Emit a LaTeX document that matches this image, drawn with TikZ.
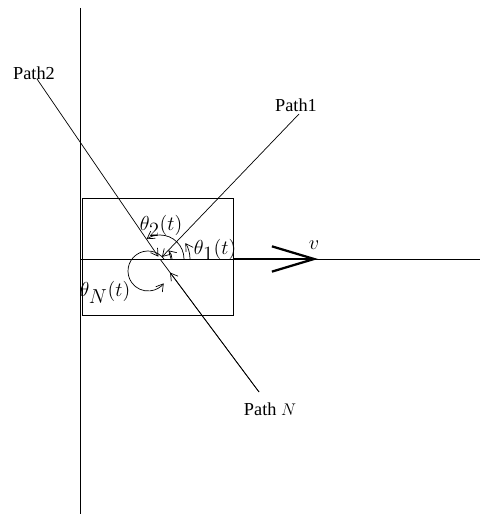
\documentclass[tikz,border=0pt]{standalone}
\usepackage{fontspec}
\setmainfont{Liberation Serif}
\usetikzlibrary{arrows.meta}

\begin{document}
\begin{tikzpicture}[x=0.025cm, y=0.025cm, >={Straight Barb[length=5pt,width=6pt]},
	every node/.style={font=\fontsize{13}{15}\selectfont, inner sep=1pt},
	mathlabel/.style={font=\fontsize{14.5}{17}\selectfont},
	thin line/.style={line width=0.5pt}]
	\useasboundingbox (0,0) rectangle (480,514);
	% axes and box
	\coordinate (O) at (160,255);
	\coordinate (ytop) at (80,506);
	\coordinate (ybot) at (80,0);
	\coordinate (xl) at (80,255);
	\coordinate (xr) at (480,255);
	\coordinate (vs) at (233,255);
	\coordinate (ve) at (318,255);
	\draw[thin line] (ytop) -- (ybot);
	\draw[thin line] (xl) -- (xr);
	\draw[thin line] (82,199) rectangle (233,316);
	% the paths
	\coordinate (p1) at (299,400);
	\coordinate (p2) at (37,435);
	\coordinate (pN) at (259,122);
	\node (l1) at (296,409) {Path1};
	\node (l2) at (34,441) {Path2};
	\node (lN) at (270,105) {Path $N$};
	\draw[thin line, ->, shorten >=2pt] (p1) -- (O);
	\draw[thin line, ->, shorten >=2pt] (p2) -- (O);
	\draw[thin line] (pN) -- (O);
	\draw[thin line, ->, shorten >=12] (pN) -- (O);
	% velocity
	\draw[line width=2pt, -{Straight Barb[length=30pt,width=18pt,line width=1.6pt]}] (vs) -- (ve);
	\node[mathlabel] (v) at (314,269) {$v$};
	% angles
	\draw[thin line, ->] ([shift={(12,0)}]O) arc (0:46:12);
	\draw[thin line, ->] ([shift={(30,0)}]O) arc (0:32:30);
	\draw[thin line, ->] ([shift={(24,0)}]O) arc (0:124:24);
	\draw[thin line, ->] (148,243) ++(36:20) arc (36:322:20);
	\node[mathlabel] (t1) at (215,264) {$\theta_{\textstyle 1}(t)$};
	\node[mathlabel] (t2) at (161,288) {$\theta_{\textstyle 2}(t)$};
	\node[mathlabel] (tN) at (105,222) {$\theta_{\textstyle N}(t)$};
\end{tikzpicture}
\end{document}
